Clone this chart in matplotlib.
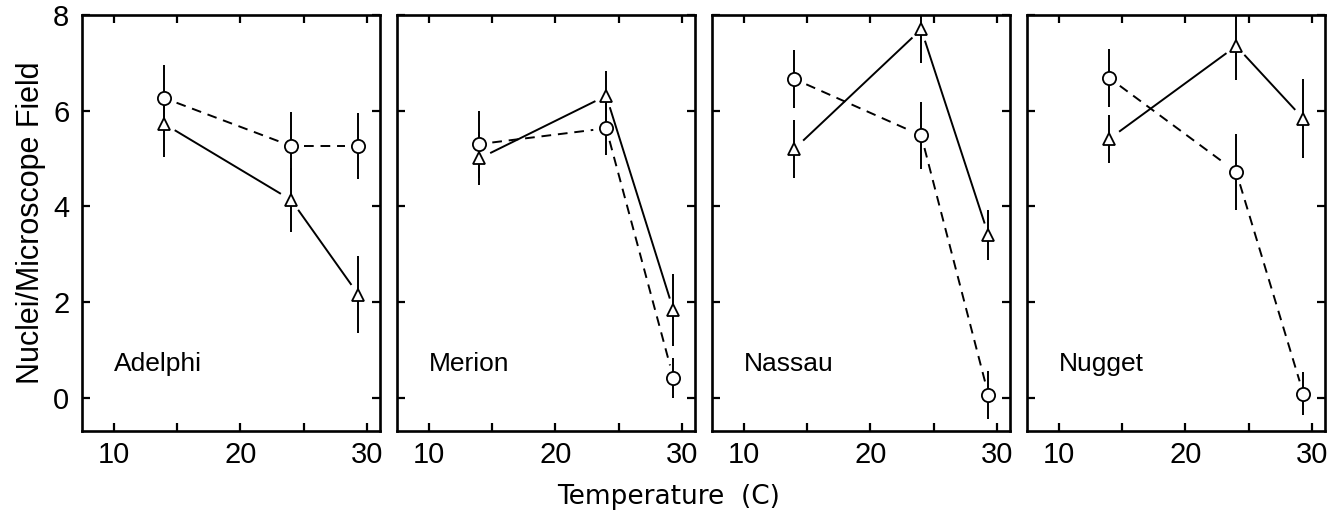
import matplotlib
matplotlib.use("Agg")
import matplotlib.pyplot as plt
import numpy as np

plt.rcParams['font.family'] = ['Liberation Sans', 'DejaVu Sans']

cultivars = ["Adelphi", "Merion", "Nassau", "Nugget"]
temperature = [14, 24, 29.3]

# dashed series (open circles)
circle_mean = [
    [6.26, 5.26, 5.26],
    [5.30, 5.63, 0.41],
    [6.66, 5.48, 0.06],
    [6.68, 4.72, 0.08],
]
circle_err = [
    [0.70, 0.72, 0.70],
    [0.70, 0.55, 0.42],
    [0.60, 0.70, 0.50],
    [0.60, 0.80, 0.45],
]
# solid series (open triangles)
triangle_mean = [
    [5.72, 4.13, 2.15],
    [5.00, 6.31, 1.83],
    [5.20, 7.70, 3.40],
    [5.41, 7.35, 5.83],
]
triangle_err = [
    [0.70, 0.67, 0.80],
    [0.56, 0.52, 0.75],
    [0.60, 0.70, 0.52],
    [0.50, 0.70, 0.83],
]

x_ticks = [10, 20, 30]
x_minor = [15, 25]
y_ticks = [0, 2, 4, 6, 8]

fig = plt.figure(figsize=(13.37, 5.15), dpi=100)
axes = fig.subplots(1, 4, sharey=True)
fig.subplots_adjust(left=0.0613, right=0.991, top=0.971, bottom=0.163, wspace=0.057)

LW = 1.4
GAP = 13.0  # px gap between line and marker centre


def gapped_line(ax, xs, ys, ls):
    pts = ax.transData.transform(np.column_stack([xs, ys]))
    inv = ax.transData.inverted()
    for i in range(len(pts) - 1):
        p0, p1 = pts[i], pts[i + 1]
        d = p1 - p0
        L = np.hypot(*d)
        u = d / L
        a = inv.transform(p0 + u * GAP)
        b = inv.transform(p1 - u * GAP)
        if ls == '--':
            ax.plot([a[0], b[0]], [a[1], b[1]], color='black', lw=LW,
                    ls=(0, (5, 3.5)), zorder=2)
        else:
            ax.plot([a[0], b[0]], [a[1], b[1]], color='black', lw=LW,
                    ls='-', zorder=2)


for i, ax in enumerate(axes):
    ax.set_xlim(7.5, 31)
    ax.set_ylim(-0.7, 8)
    for s in ax.spines.values():
        s.set_linewidth(1.9)
    ax.set_xticks(x_ticks)
    ax.set_xticks(x_minor, minor=True)
    ax.set_yticks(y_ticks)
    ax.tick_params(axis='both', which='both', direction='in', top=True, right=True,
                   left=True, bottom=True, width=1.6, labelsize=21)
    ax.tick_params(axis='both', which='major', length=6)
    ax.tick_params(axis='x', which='minor', length=6)
    ax.tick_params(axis='x', pad=7)
    ax.tick_params(axis='y', pad=9)
    if i > 0:
        ax.tick_params(axis='y', labelleft=False)

    # error bars
    ax.errorbar(temperature, circle_mean[i], yerr=circle_err[i], fmt='none',
                ecolor='black', elinewidth=LW, capsize=0, zorder=3)
    ax.errorbar(temperature, triangle_mean[i], yerr=triangle_err[i], fmt='none',
                ecolor='black', elinewidth=LW, capsize=0, zorder=3)

    gapped_line(ax, temperature, circle_mean[i], '--')
    gapped_line(ax, temperature, triangle_mean[i], '-')

    ax.plot(temperature, circle_mean[i], ls='none', marker='o', ms=9.5,
            mfc='white', mec='black', mew=1.3, zorder=4)
    ax.plot(temperature, triangle_mean[i], ls='none', marker='^', ms=9,
            mfc='white', mec='black', mew=1.3, zorder=4)

    ax.text(10.0, 0.7, cultivars[i], fontsize=19, va='center', ha='left')

axes[0].set_ylabel("Nuclei/Microscope Field", fontsize=22, labelpad=5)
fig.text(0.5, 0.035, "Temperature  (C)", fontsize=19, ha='center', va='center',
         family='DejaVu Sans')

fig.savefig("out.png", dpi=100)
